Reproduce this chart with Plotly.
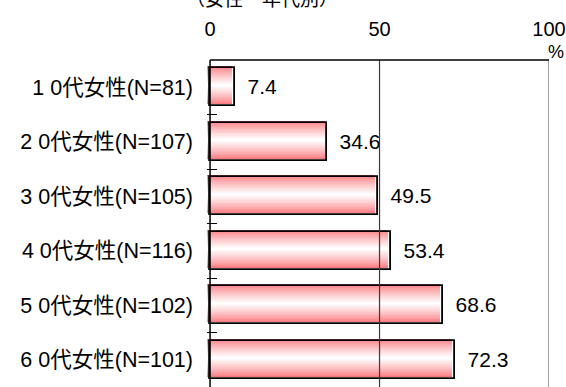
import plotly.graph_objects as go

# Survey results by age group (women), percent
categories = ["1 0代女性(N=81)", "2 0代女性(N=107)", "3 0代女性(N=105)",
              "4 0代女性(N=116)", "5 0代女性(N=102)", "6 0代女性(N=101)"]
values = [7.4, 34.6, 49.5, 53.4, 68.6, 72.3]
tick_vals = [0, 50, 100]
tick_text = ["0", "50", "100"]
title_text = "（女性・年代別）"

FONT = "Liberation Sans, Arial, Noto Sans CJK JP, sans-serif"
W, H = 566, 387
M_L, M_R, M_T, M_B = 207, 17, 60, 0
X_MIN = -0.9
BAR_W = 0.70

fig = go.Figure()

# vertical pink -> white -> pink gradient built from stacked, narrowing bars
edge = (250, 118, 124)
steps = 32
for k in range(steps):
    t = k / (steps - 1)
    c = tuple(round(e + (255 - e) * t ** 0.8) for e in edge)
    w = BAR_W * (1 - k / steps)
    fig.add_trace(go.Bar(
        y=categories, x=values, base=-0.8, orientation="h",
        width=w, offset=-w / 2 - 0.035,
        marker=dict(color=f"rgb{c}", line=dict(width=0)),
        hoverinfo="skip", showlegend=False,
    ))

# black outline and value labels
fig.add_trace(go.Bar(
    y=categories, x=values, orientation="h",
    width=BAR_W, offset=-BAR_W / 2,
    marker=dict(color="rgba(0,0,0,0)", line=dict(color="black", width=1.8)),
    text=[f"\u2002{v:.1f}" for v in values], textposition="outside",
    textfont=dict(family=FONT, size=21, color="black"),
    cliponaxis=False, showlegend=False,
))

# frame and gridlines
grid_colors = {0: "black", 50: "#3a3a3a", 100: "#a0a0a0"}
grid_widths = {0: 1.5, 50: 1.2, 100: 2}
for v in tick_vals:
    fig.add_shape(type="line", xref="x", yref="paper", x0=v, x1=v, y0=0, y1=1,
                  line=dict(color=grid_colors[v], width=grid_widths[v]), layer="above")
fig.add_shape(type="line", xref="x", yref="paper", x0=tick_vals[0], x1=tick_vals[-1],
              y0=1, y1=1, line=dict(color="black", width=1.5), layer="above")

plot_h = H - M_T - M_B
plot_w = W - M_L - M_R
fig.add_annotation(text="%", xref="paper", yref="paper",
                   x=(556 - M_L) / plot_w, y=(H - 52 - M_B) / plot_h,
                   xanchor="center", yanchor="middle",
                   showarrow=False, font=dict(family=FONT, size=18, color="black"))
fig.add_annotation(text=title_text, xref="paper", yref="paper",
                   x=(262 - M_L) / plot_w, y=(H + 1 - M_B) / plot_h,
                   xanchor="center", yanchor="middle", showarrow=False,
                   font=dict(family=FONT, size=19, color="black"))

fig.update_layout(
    width=W, height=H,
    margin=dict(l=M_L, r=M_R, t=M_T, b=M_B),
    paper_bgcolor="white", plot_bgcolor="white",
    barmode="overlay", bargap=0,
    font=dict(family=FONT, size=21, color="black"),
    xaxis=dict(range=[X_MIN, 100], side="top", tickvals=tick_vals, ticktext=tick_text,
               showgrid=False, zeroline=False, showline=False, ticks="",
               tickfont=dict(size=20), ticklabelstandoff=19, fixedrange=True),
    yaxis=dict(autorange="reversed", showgrid=False, zeroline=False, showline=False,
               ticks="inside", tickson="boundaries", ticklen=10, tickcolor="black",
               tickwidth=1, ticklabelstandoff=13, tickfont=dict(size=21.5),
               fixedrange=True),
)

fig.write_html("out.html")
